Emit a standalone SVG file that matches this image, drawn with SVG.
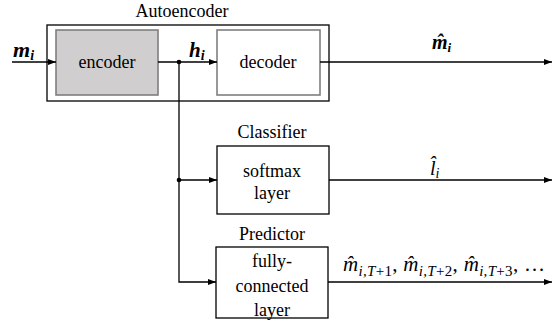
<svg xmlns="http://www.w3.org/2000/svg" width="559" height="324" viewBox="0 0 559 324">
<defs>
<marker id="ah" markerWidth="8" markerHeight="6" refX="8" refY="3" orient="auto" markerUnits="userSpaceOnUse">
<path d="M0,0 L8,3 L0,6 z" fill="#000"/>
</marker>
<style>
.lbl{font-family:"Liberation Serif","Times New Roman",serif;font-size:18px;fill:#000;text-anchor:middle}
.math{font-family:"Liberation Serif","Times New Roman",serif;font-style:italic;fill:#000}
.bm{font-weight:bold}
.up{font-style:normal}
.ln{fill:none;stroke:#000;stroke-width:1.3}
.box{fill:#fff;stroke:#000;stroke-width:1.3}
.gbox{stroke:#7f7f7f;stroke-width:1.6}
</style>
</defs>
<rect width="559" height="324" fill="#fff"/>

<g id="autoencoder">
<rect class="box" x="47" y="25" width="282" height="76"/>
<text class="lbl" x="182" y="17">Autoencoder</text>
</g>
<g id="encoder">
<rect x="56" y="30" width="102" height="65" fill="#d0cece" class="gbox"/>
<text class="lbl" x="107" y="68">encoder</text>
</g>
<g id="decoder">
<rect x="217" y="30" width="103" height="65" fill="#fff" class="gbox"/>
<text class="lbl" x="268" y="68">decoder</text>
</g>
<g id="classifier">
<rect class="box" x="217" y="146" width="112" height="68"/>
<text class="lbl" x="272" y="138">Classifier</text>
<text class="lbl" x="272" y="177">softmax</text>
<text class="lbl" x="272" y="199">layer</text>
</g>
<g id="predictor">
<rect class="box" x="216" y="247" width="112" height="71"/>
<text class="lbl" x="272" y="240">Predictor</text>
<text class="lbl" x="272" y="267">fully-</text>
<text class="lbl" x="272" y="292">connected</text>
<text class="lbl" x="272" y="316">layer</text>
</g>

<g id="connectors">
<line class="ln" x1="12" y1="62" x2="56" y2="62" marker-end="url(#ah)"/>
<line class="ln" x1="158" y1="62" x2="217" y2="62" marker-end="url(#ah)"/>
<line class="ln" x1="320" y1="62" x2="552" y2="62" marker-end="url(#ah)"/>
<polyline class="ln" points="179,62 179,282 216,282" marker-end="url(#ah)"/>
<line class="ln" x1="179" y1="180" x2="217" y2="180" marker-end="url(#ah)"/>
<line class="ln" x1="329" y1="180" x2="552" y2="180" marker-end="url(#ah)"/>
<line class="ln" x1="328" y1="282" x2="552" y2="282" marker-end="url(#ah)"/>
<circle cx="179" cy="62" r="2.3" fill="#000"/>
<circle cx="179" cy="180" r="2.3" fill="#000"/>
</g>

<g id="labels">
<text class="math bm" font-size="22" x="13" y="57">m<tspan font-size="14" dy="3">i</tspan></text>
<text class="math bm" font-size="21" x="189" y="57">h<tspan font-size="14" dy="3">i</tspan></text>
<text class="math bm" font-size="20" x="432" y="49">m̂<tspan font-size="13" dy="3">i</tspan></text>
<text class="math" font-size="20" x="430" y="175">l̂<tspan font-size="14" dy="3">i</tspan></text>
<text class="math" font-size="21" x="343" y="271" textLength="202" lengthAdjust="spacing">m̂<tspan font-size="15" dy="5">i,T<tspan class="up">+1</tspan></tspan><tspan class="up" dy="-5">, </tspan>m̂<tspan font-size="15" dy="5">i,T<tspan class="up">+2</tspan></tspan><tspan class="up" dy="-5">, </tspan>m̂<tspan font-size="15" dy="5">i,T<tspan class="up">+3</tspan></tspan><tspan class="up" dy="-5">, …</tspan></text>
</g>
</svg>
